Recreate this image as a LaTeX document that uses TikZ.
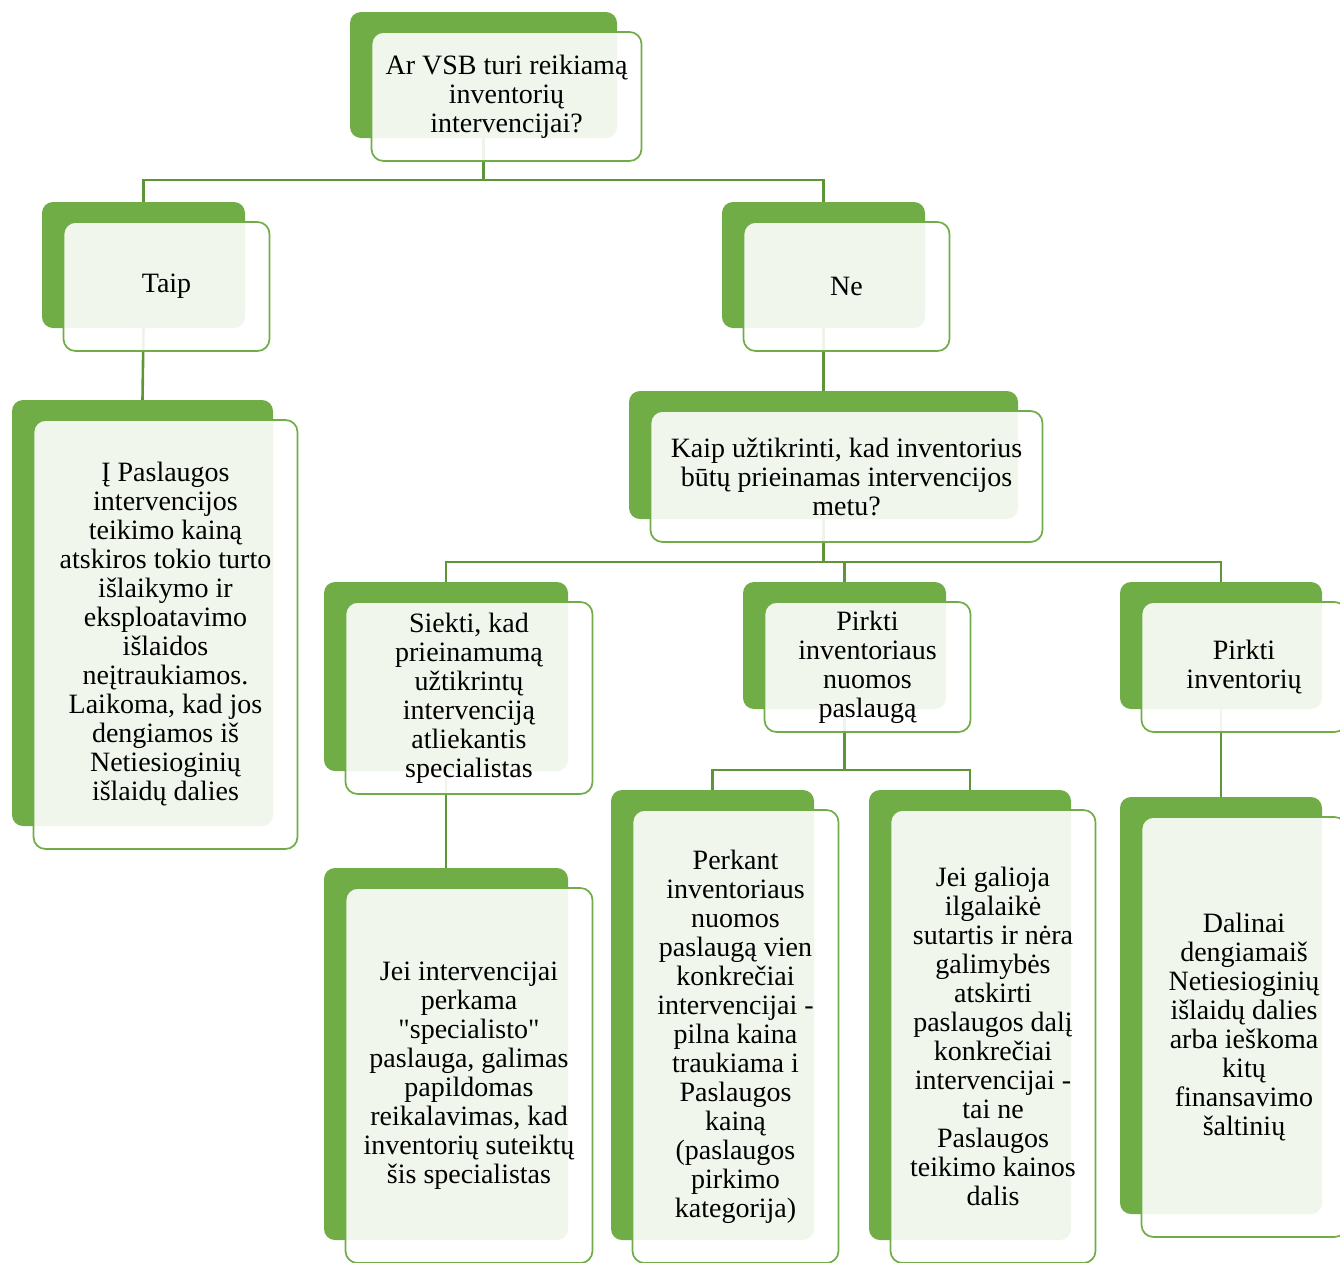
\documentclass[tikz,border=0pt]{standalone}
\usepackage{fontspec}
\setmainfont{Liberation Serif}[Ligatures=TeXOff]
\definecolor{smartgreen}{HTML}{70AD47}
\definecolor{linkgreen}{HTML}{5E9538}
\pgfdeclarelayer{bg}
\pgfsetlayers{bg,main}
\tikzset{
  backbox/.style={fill=smartgreen, rounded corners=11pt, inner sep=0pt, outer sep=0pt},
  frontbox/.style={draw=smartgreen, line width=1.7pt, fill=white, fill opacity=0.9,
    text opacity=1, rounded corners=12pt, inner sep=0pt, align=center,
    font=\fontsize{28}{29}\selectfont},
  link/.style={draw=linkgreen, line width=2.6pt}
}

\begin{document}
\begin{tikzpicture}[x=1pt, y=-1pt]
\newcommand{\greenbox}[6]{% name, x1, y1, x2, y2, text
  \node[backbox, minimum width={(#4-#2)*1pt}, minimum height={(#5-#3)*1pt}]
    (#1) at ({(#2+#4)/2}, {(#3+#5)/2}) {};
  \node[frontbox, minimum width={(#4-#2+3)*1pt}, minimum height={(#5-#3+3)*1pt}]
    (#1-f) at ({(#2+#4)/2+23}, {(#3+#5)/2+21.5}) {#6};
}
\useasboundingbox (0,0) rectangle (1340,1262);

% first level
\greenbox{q}{350}{12}{617}{138}{Ar VSB turi reikiamą\\inventorių\\intervencijai?}
\greenbox{taip}{42}{202}{245}{328}{Taip}
\greenbox{ne}{722}{202}{925}{328}{Ne}

% left branch
\greenbox{taipnote}{12}{400}{273}{826}{Į Paslaugos\\intervencijos\\teikimo kainą\\atskiros tokio turto\\išlaikymo ir\\eksploatavimo\\išlaidos\\neįtraukiamos.\\Laikoma, kad jos\\dengiamos iš\\Netiesioginių\\išlaidų dalies}

% right branch
\greenbox{kaip}{629}{391}{1018}{519}{Kaip užtikrinti, kad inventorius\\būtų prieinamas intervencijos\\metu?}
\greenbox{siekti}{324}{582}{568}{771}{Siekti, kad\\prieinamumą\\užtikrintų\\intervenciją\\atliekantis\\specialistas}
\greenbox{nuoma}{743}{582}{946}{709}{Pirkti\\inventoriaus\\nuomos\\paslaugą}
\greenbox{pirkti}{1120}{582}{1322}{709}{Pirkti\\inventorių}

% bottom row
\greenbox{specnote}{324}{868}{568}{1240}{Jei intervencijai\\perkama\\"specialisto"\\paslauga, galimas\\papildomas\\reikalavimas, kad\\inventorių suteiktų\\šis specialistas}
\greenbox{perkant}{611}{790}{814}{1240}{Perkant\\inventoriaus\\nuomos\\paslaugą vien\\konkrečiai\\intervencijai -\\pilna kaina\\traukiama i\\Paslaugos\\kainą\\(paslaugos\\pirkimo\\kategorija)}
\greenbox{galioja}{869}{790}{1071}{1240}{Jei galioja\\ilgalaikė\\sutartis ir nėra\\galimybės\\atskirti\\paslaugos dalį\\konkrečiai\\intervencijai -\\tai ne\\Paslaugos\\teikimo kainos\\dalis}
\greenbox{dalinai}{1120}{797}{1322}{1214}{Dalinai\\dengiamaiš\\Netiesioginių\\išlaidų dalies\\arba ieškoma\\kitų\\finansavimo\\šaltinių}

% connectors
\begin{pgfonlayer}{bg}
\draw[link] (q.south) -- (q.south |- 0,180) -| (taip.north);
\draw[link] (q.south |- 0,180) -| (ne.north);
\draw[link] (taip.south) -- (taipnote.north);
\draw[link] (ne.south) -- (kaip.north);
\draw[link] (kaip.south) -- (kaip.south |- 0,562) -| (siekti.north);
\draw[link] (kaip.south |- 0,562) -| (nuoma.north);
\draw[link] (kaip.south |- 0,562) -| (pirkti.north);
\draw[link] (siekti.south) -- (specnote.north);
\draw[link] (nuoma.south) -- (nuoma.south |- 0,770) -| (perkant.north);
\draw[link] (nuoma.south |- 0,770) -| (galioja.north);
\draw[link] (pirkti.south) -- (dalinai.north);
\end{pgfonlayer}
\end{tikzpicture}
\end{document}
